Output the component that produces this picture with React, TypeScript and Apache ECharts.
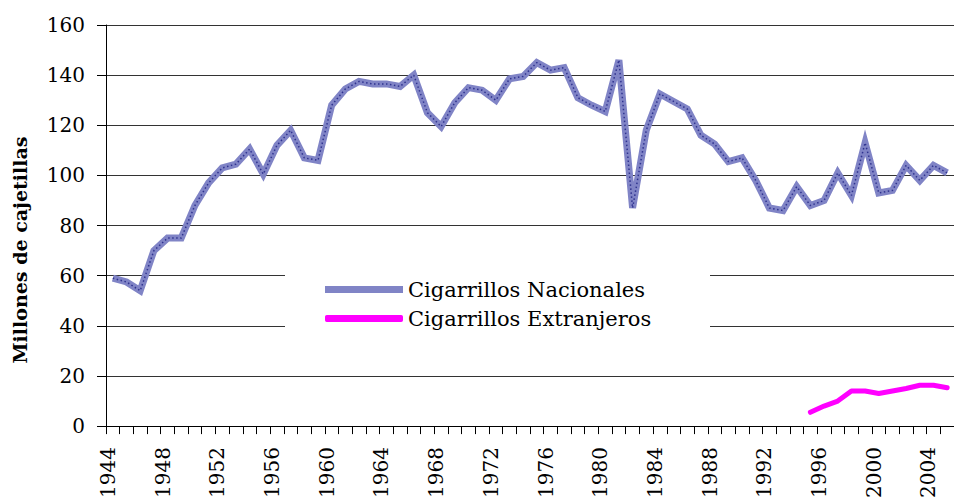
import React, { useEffect, useRef } from "react";
import * as echarts from "echarts";

const years: string[] = [];
for (let y = 1944; y <= 2005; y++) years.push(String(y));

const nacionales = [
  59, 57.5, 54, 70, 75, 75, 88, 97, 103, 104.5,
  110.5, 100.5, 112, 118, 107, 106, 128, 134.5, 137.5, 136.5,
  136.5, 135.5, 140, 125, 119.5, 129, 135, 134, 130, 138.5,
  139.5, 145, 142, 143, 131, 128, 125.5, 146, 87, 118,
  132.5, 129.5, 126.5, 116, 112.5, 105.5, 107, 98, 87, 86,
  95.5, 88, 90, 101, 92, 113, 93, 94, 104, 98,
  104, 101,
];

const extranjerosStart = "1995";
const extranjerosValues = [5.5, 8, 10, 14, 14, 13, 14, 15, 16.3, 16.3, 15.3];

const yTicks = [0, 20, 40, 60, 80, 100, 120, 140, 160];

const NAC = "Cigarrillos Nacionales";
const EXT = "Cigarrillos Extranjeros";
const yTitle = "Millones de cajetillas";

const FONT = "DejaVu Serif";

export default function App() {
  const ref = useRef<HTMLDivElement>(null);
  useEffect(() => {
    if (!ref.current) return;
    document.body.style.margin = "0";
    const chart = echarts.init(ref.current, undefined, { renderer: "svg" });
    const startIdx = years.indexOf(extranjerosStart);
    const extranjeros = years.map((_, i) =>
      i >= startIdx && i - startIdx < extranjerosValues.length ? extranjerosValues[i - startIdx] : null
    );
    chart.setOption({
      animation: false,
      backgroundColor: "#ffffff",
      grid: { left: 106, top: 25, width: 854, height: 404, containLabel: false },
      legend: {
        orient: "vertical",
        left: 325,
        top: 279,
        padding: 0,
        itemGap: 8,
        itemWidth: 78,
        itemHeight: 7,
        textStyle: { fontFamily: FONT, fontSize: 21, color: "#000", lineHeight: 21 },
        data: [
          { name: NAC, icon: "rect" },
          { name: EXT, icon: "roundRect" },
        ],
      },
      graphic: [
        {
          type: "rect",
          z: 1,
          shape: { x: 285, y: 266, width: 425, height: 76 },
          style: { fill: "#ffffff" },
          silent: true,
        },
        {
          type: "text",
          x: 20,
          y: 250,
          rotation: Math.PI / 2,
          style: {
            text: yTitle,
            fontFamily: FONT,
            fontWeight: "bold",
            fontSize: 19,
            fill: "#000",
            align: "center",
            verticalAlign: "middle",
          },
        },
      ],
      xAxis: {
        type: "category",
        data: years,
        boundaryGap: true,
        axisLine: { show: true, lineStyle: { color: "#000", width: 1 } },
        axisTick: { show: true, interval: 0, length: 8, lineStyle: { color: "#000" } },
        axisLabel: {
          interval: 3,
          rotate: 90,
          margin: 21,
          fontFamily: FONT,
          fontSize: 20,
          color: "#000",
          verticalAlign: "bottom",
          lineHeight: 10,
        },
        splitLine: { show: false },
      },
      yAxis: {
        type: "value",
        min: yTicks[0],
        max: yTicks[yTicks.length - 1],
        interval: 20,
        axisLine: { show: true, lineStyle: { color: "#000", width: 1 } },
        axisTick: { show: true, length: 9, lineStyle: { color: "#000" } },
        axisLabel: { margin: 21, fontFamily: FONT, fontSize: 20, color: "#000" },
        splitLine: { show: true, lineStyle: { color: "#333", width: 1 } },
      },
      series: [
        {
          name: NAC,
          type: "line",
          data: nacionales,
          showSymbol: false,
          symbol: "none",
          z: 2,
          color: "#8084c6",
          lineStyle: { color: "#8084c6", width: 7, join: "miter" },
        },
        {
          name: "nac-pattern",
          type: "line",
          data: nacionales,
          showSymbol: false,
          symbol: "none",
          silent: true,
          z: 3,
          color: "#2f338f",
          lineStyle: { color: "#2f338f", width: 1.5, type: [1.5, 2.5] },
        },
        {
          name: EXT,
          type: "line",
          data: extranjeros,
          showSymbol: false,
          symbol: "none",
          z: 2,
          color: "#ff00ff",
          lineStyle: { color: "#ff00ff", width: 5, cap: "round", join: "round" },
        },
      ],
    });
    return () => chart.dispose();
  }, []);
  return <div ref={ref} style={{ width: 954, height: 501 }} />;
}
